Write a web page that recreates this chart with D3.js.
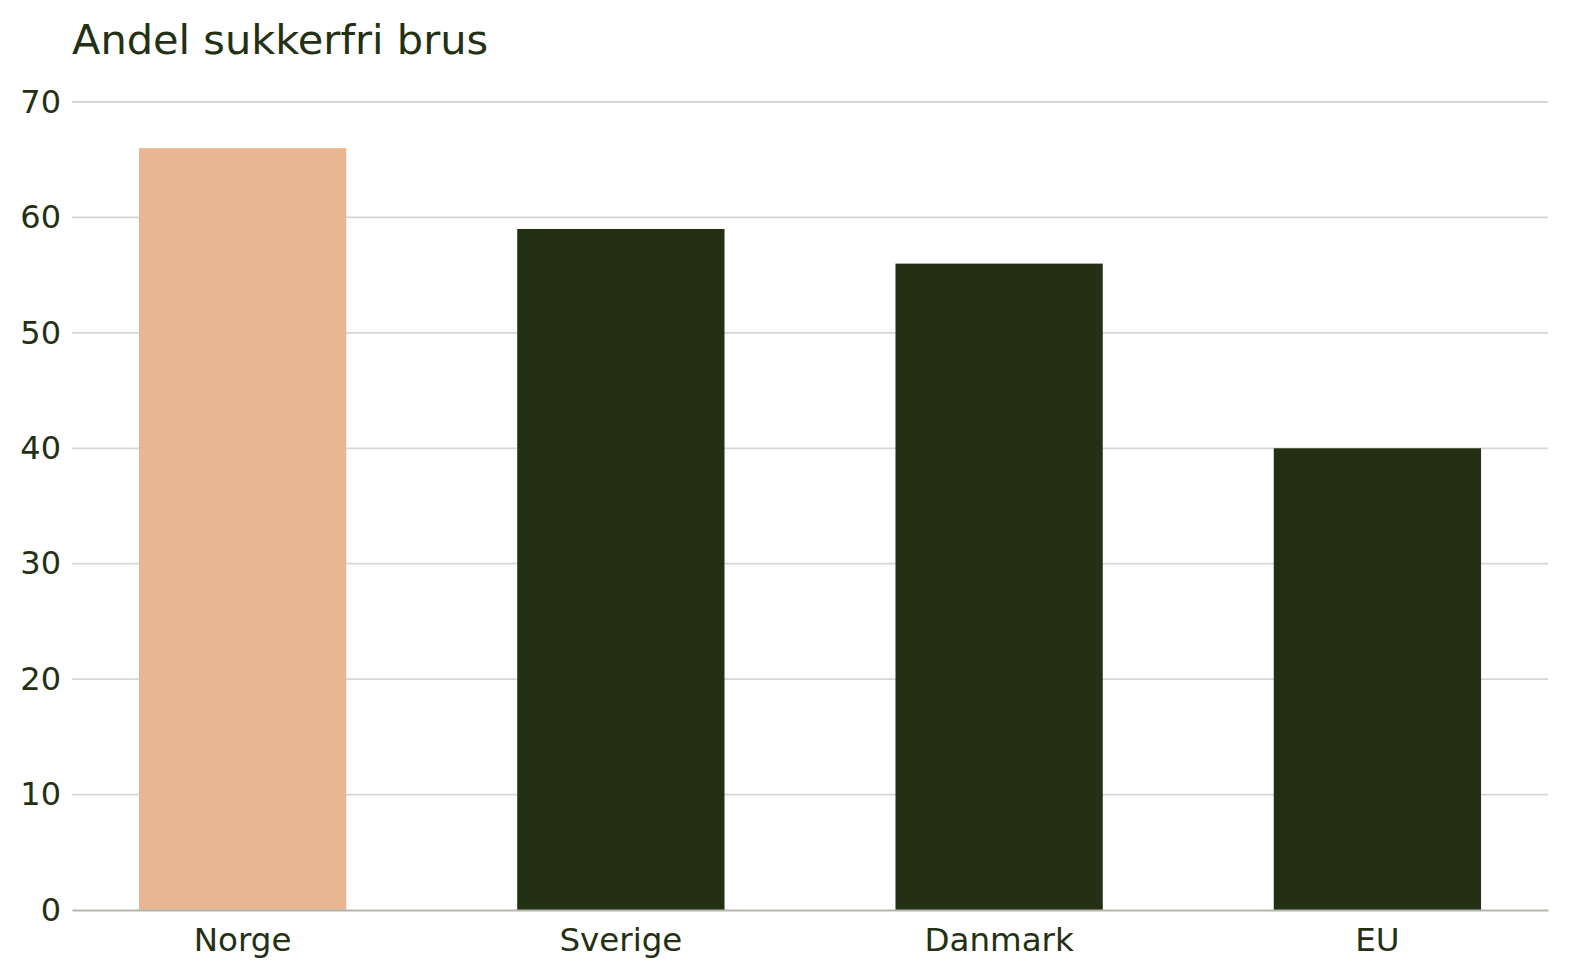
<!DOCTYPE html>
<html>
<head>
<meta charset="utf-8">
<script src="https://cdn.jsdelivr.net/npm/d3@7"></script>
<style>
    html, body { margin: 0; padding: 0; background: #fff; overflow: hidden; }
    svg { display: block; }
    text { font-family: "DejaVu Sans", sans-serif; fill: #243013; }
</style>
</head>
<body>
<div class="container"></div>
<script>
var title = "Andel sukkerfri brus";
var countries = ["Norge", "Sverige", "Danmark", "EU"];
var shares = [66, 59, 56, 40];
var highlight = ["Norge"];
var yTicks = [0, 10, 20, 30, 40, 50, 60, 70];

var width = 1580;
var height = 980;
var margin = { top: 102, right: 32, bottom: 70, left: 72 };

var svg = d3.select('.container')
    .append('svg')
    .attr('width', width)
    .attr('height', height)

var x = d3.scaleBand()
    .domain(countries)
    .range([margin.left, width - margin.right])
    .paddingInner(0.452)
    .paddingOuter(0.177)

var y = d3.scaleLinear()
    .domain([0, 70])
    .range([height - margin.bottom, margin.top])

// horizontal grid
svg.append('g')
    .selectAll('line')
    .data(yTicks.slice(1))
    .enter().append('line')
    .attr('x1', margin.left)
    .attr('x2', width - margin.right)
    .attr('y1', function (d) { return y(d) })
    .attr('y2', function (d) { return y(d) })
    .attr('stroke', '#d6d6d6')
    .attr('stroke-width', 1.8)

// y tick labels
var yAxis = svg.append('g')
    .attr('transform', 'translate(' + margin.left + ',0)')
    .call(d3.axisLeft(y).tickValues(yTicks).tickSize(0).tickPadding(11))
yAxis.select('.domain').remove()
yAxis.selectAll('text')
    .attr('font-size', '32px')
    .style('font-family', '"DejaVu Sans", sans-serif')
    .attr('fill', '#243013')

// bars
svg.append('g')
    .selectAll('rect')
    .data(countries)
    .enter().append('rect')
    .attr('x', function (d) { return x(d) })
    .attr('width', x.bandwidth())
    .attr('y', function (d, i) { return y(shares[i]) })
    .attr('height', function (d, i) { return y(0) - y(shares[i]) })
    .attr('fill', function (d) {
        return highlight.includes(d) ? '#e8b690' : '#243013'
    })

// x axis
var xAxis = svg.append('g')
    .attr('transform', 'translate(0,' + y(0) + ')')
    .call(d3.axisBottom(x).tickSize(0).tickPadding(18).tickSizeOuter(0))
xAxis.select('.domain')
    .attr('stroke', '#b4b6ac')
    .attr('stroke-width', 1.8)
xAxis.selectAll('text')
    .attr('font-size', '32.5px')
    .style('font-family', '"DejaVu Sans", sans-serif')
    .attr('fill', '#243013')

// title
svg.append('text')
    .attr('x', margin.left)
    .attr('y', 54)
    .attr('font-size', '41.5px')
    .text(title)
</script>
</body>
</html>
